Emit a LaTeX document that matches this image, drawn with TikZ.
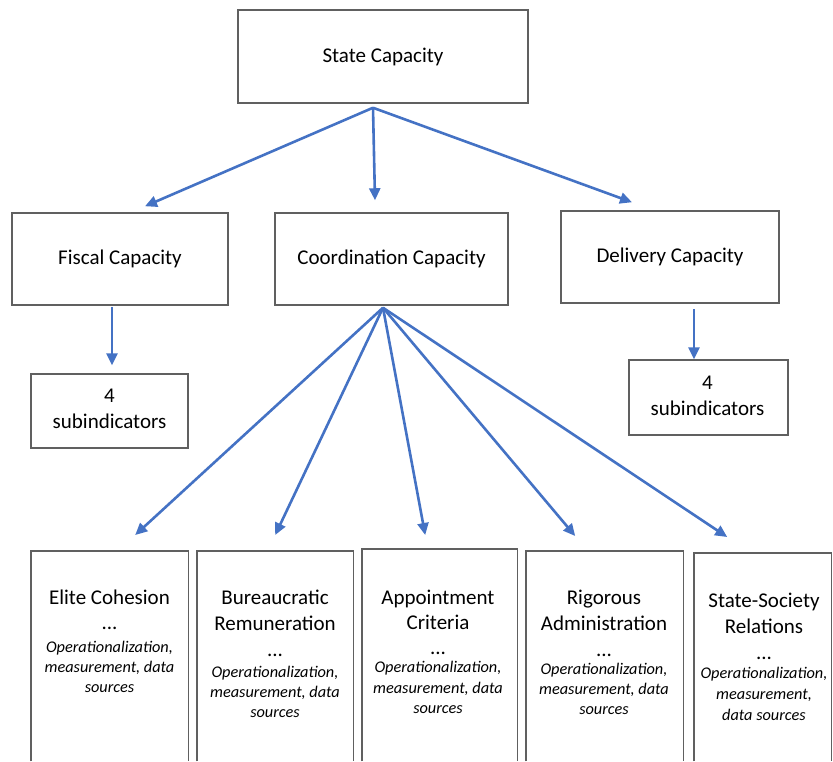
\documentclass[tikz,border=0pt]{standalone}
\usepackage{fontspec}
\setmainfont{Carlito}
\usetikzlibrary{arrows.meta}
\definecolor{boxgray}{RGB}{96,96,96}
\definecolor{arrblue}{RGB}{68,114,196}
\newcommand{\itl}{\fontsize{16.3}{20.5}\selectfont\itshape}
\begin{document}
\begin{tikzpicture}[x=1pt,y=-1pt,
  box/.style={draw=boxgray,line width=1.5pt,inner sep=0pt,align=center},
  frame/.style={inner sep=0pt,anchor=north west},
  side/.style={draw=boxgray,line width=1.5pt},
  arr/.style={draw=arrblue,line width=2.6pt,-{Triangle[length=12pt,width=11pt]}},
  btxt/.style={align=center,inner sep=0pt,anchor=north},
  stxt/.style={align=center,inner sep=0pt},
  font=\fontsize{21}{26}\selectfont]
\useasboundingbox (0,0) rectangle (833,761);
% top levels
\node[box,minimum width=290pt,minimum height=93pt] (state) at (383,56.5) {State Capacity};
\node[box,minimum width=216pt,minimum height=92pt] (fiscal) at (120,259) {Fiscal Capacity};
\node[box,minimum width=233pt,minimum height=92pt] (coord) at (391.5,259) {Coordination Capacity};
\node[box,minimum width=218pt,minimum height=92pt] (delivery) at (670,257) {Delivery Capacity};
\node[box,minimum width=157pt,minimum height=74pt] (subf) at (109.5,411) {};
\node[box,minimum width=159pt,minimum height=75pt] (subd) at (708.5,397.5) {};
\node[stxt] (subfT) at ([yshift=2.5pt]subf.center) {4\\subindicators};
\node[stxt] (subdT) at ([xshift=-1pt,yshift=2pt]subd.center) {4\\subindicators};
% bottom frames
\node[frame,minimum width=157pt,minimum height=210pt] (elite) at (31,551) {};
\node[frame,minimum width=156pt,minimum height=210pt] (bur) at (197,551) {};
\node[frame,minimum width=155pt,minimum height=212pt] (app) at (362,549) {};
\node[frame,minimum width=157pt,minimum height=210pt] (rig) at (526,551) {};
\node[frame,minimum width=137pt,minimum height=208pt] (ss) at (694,553) {};
\foreach \n in {elite,bur,app,rig,ss}
  \draw[side] (\n.south west) -- (\n.north west) -- (\n.north east) -- (\n.south east);
% bottom texts
\node[btxt] (eliteT) at (109.5,590) {Elite Cohesion\\[-1pt] ...\\[-3pt] \itl Operationalization,\\[-6pt] \itl measurement, data\\[-6pt] \itl sources};
\node[btxt] (burT) at (275,590) {Bureaucratic\\ Remuneration\\ ...\\[-5pt] \itl Operationalization,\\[-6pt] \itl measurement, data\\[-6pt] \itl sources};
\node[btxt] (appT) at (438,590) {Appointment\\[-1pt] Criteria\\[-1pt] ...\\[-8pt] \itl Operationalization,\\[-5pt] \itl measurement, data\\[-6pt] \itl sources};
\node[btxt] (rigT) at (604,590) {Rigorous\\ Administration\\ ...\\[-8pt] \itl Operationalization,\\[-6pt] \itl measurement, data\\[-6pt] \itl sources};
\node[btxt] (ssT) at (764,593) {State-Society\\ Relations\\[0pt] ...\\[-7pt] \itl Operationalization,\\[-5pt] \itl measurement,\\[-5pt] \itl data sources};
% arrows
\coordinate (s0) at ([xshift=-10pt,yshift=-4pt]state.south);
\draw[arr] (s0) -- ([xshift=25pt,yshift=6pt]fiscal.north);
\draw[arr] (s0) -- ([xshift=-16.5pt,yshift=12pt]coord.north);
\draw[arr] (s0) -- ([xshift=-38pt,yshift=8pt]delivery.north);
\draw[arr] ([xshift=-8pt,yshift=-1pt]fiscal.south) -- ([xshift=2.5pt,yshift=8pt]subf.north);
\draw[arr] ([xshift=24pt,yshift=-5.5pt]delivery.south) -- ([xshift=-14.5pt]subd.north);
\coordinate (s1) at ([xshift=-8.5pt,yshift=-2pt]coord.south);
\draw[arr] (s1) -- ([xshift=25.5pt,yshift=16pt]elite.north);
\draw[arr] (s1) -- ([yshift=16pt]bur.north);
\draw[arr] (s1) -- ([xshift=-14.5pt,yshift=14pt]app.north);
\draw[arr] (s1) -- ([xshift=-29.5pt,yshift=15pt]rig.north);
\draw[arr] (s1) -- ([xshift=-35.5pt,yshift=16pt]ss.north);
\end{tikzpicture}
\end{document}
